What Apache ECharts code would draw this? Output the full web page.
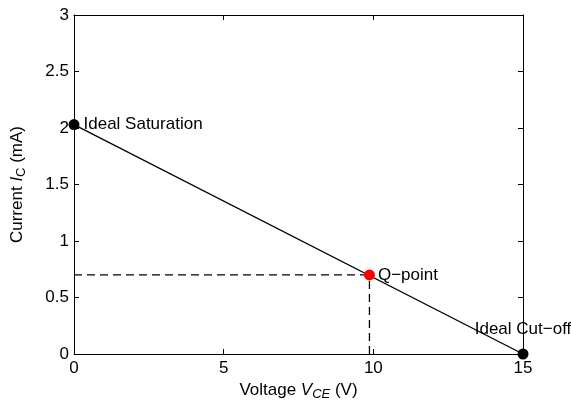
<!DOCTYPE html>
<html>
<head>
<meta charset="utf-8">
<script src="https://cdn.jsdelivr.net/npm/echarts@6/dist/echarts.min.js"></script>
<style>
  html, body { margin: 0; padding: 0; background: #fff; }
  #main { width: 571px; height: 406px; }
</style>
</head>
<body>
<div id="main"></div>
<script>
// load line end points (V_CE in V, I_C in mA)
const loadLineV = [0, 15];
const loadLineI = [2.03, 0];
const endLabels = ['Ideal Saturation', 'Ideal Cut\u2212off'];

// operating point
const qPointV = 9.87;
const qPointI = 0.70;
const qLabel = 'Q\u2212point';

// axis ticks
const xTicks = [0, 5, 10, 15];
const yTicks = [0, 0.5, 1, 1.5, 2, 2.5, 3];

const font = 'Liberation Sans, Arial, Helvetica, sans-serif';
const fs = 17;
const chart = echarts.init(document.getElementById('main'));

const baseAxis = {
    axisLine: { show: true, onZero: false, lineStyle: { color: '#000', width: 1 } },
    axisTick: { show: true, inside: true, length: 5, lineStyle: { color: '#000' } },
    splitLine: { show: false },
}

const textStyle = { color: '#000', fontSize: fs, fontFamily: font }

chart.setOption({
    animation: false,
    grid: { left: 74, right: 48, top: 15, bottom: 52 },
    xAxis: [
        {
            ...baseAxis,
            type: 'value',
            position: 'bottom',
            min: xTicks[0],
            max: xTicks[xTicks.length - 1],
            interval: 5,
            axisLabel: { ...textStyle, margin: 6 },
            name: 'Voltage {i|V}{sub|CE}{t| (V)}',
            nameLocation: 'middle',
            nameGap: 25,
            nameTextStyle: {
                ...textStyle,
                rich: {
                    t: { ...textStyle },
                    i: { ...textStyle, fontStyle: 'italic' },
                    sub: { ...textStyle, fontStyle: 'italic', fontSize: 13, verticalAlign: 'bottom', padding: [8, 0, 0, 0] },
                },
            },
        },
        {
            ...baseAxis,
            type: 'value',
            position: 'top',
            min: xTicks[0],
            max: xTicks[xTicks.length - 1],
            interval: 5,
            axisLabel: { show: false },
        },
    ],
    yAxis: [
        {
            ...baseAxis,
            type: 'value',
            position: 'left',
            min: yTicks[0],
            max: yTicks[yTicks.length - 1],
            interval: 0.5,
            axisLabel: { ...textStyle, margin: 5 },
            name: 'Current {i|I}{sub|C}{t| (mA)}',
            nameLocation: 'middle',
            nameGap: 46,
            nameTextStyle: {
                ...textStyle,
                rich: {
                    t: { ...textStyle },
                    i: { ...textStyle, fontStyle: 'italic' },
                    sub: { ...textStyle, fontSize: 13, verticalAlign: 'bottom', padding: [8, 0, 0, 0] },
                },
            },
        },
        {
            ...baseAxis,
            type: 'value',
            position: 'right',
            min: yTicks[0],
            max: yTicks[yTicks.length - 1],
            interval: 0.5,
            axisLabel: { show: false },
        },
    ],
    series: [
        {
            // load line
            type: 'line',
            data: loadLineV.map((v, i) => [v, loadLineI[i]]),
            symbol: 'none',
            lineStyle: { color: '#000', width: 1.3 },
            z: 2,
        },
        {
            // dashed projection to the current axis
            type: 'line',
            data: [[0, qPointI], [qPointV, qPointI]],
            symbol: 'none',
            lineStyle: { color: '#000', width: 1.3, type: [8, 5] },
            z: 1,
        },
        {
            // dashed projection to the voltage axis
            type: 'line',
            data: [[qPointV, 0], [qPointV, qPointI]],
            symbol: 'none',
            lineStyle: { color: '#000', width: 1.3, type: [8, 5] },
            z: 1,
        },
        {
            // ideal end points
            type: 'scatter',
            symbolSize: 11,
            itemStyle: { color: '#000', opacity: 1 },
            data: loadLineV.map((v, i) => ({
                value: [v, loadLineI[i]],
                label: {
                    show: true,
                    formatter: endLabels[i],
                    position: i === 0 ? 'right' : 'top',
                    distance: i === 0 ? 4 : 11,
                    ...textStyle,
                },
            })),
            z: 5,
        },
        {
            // Q-point
            type: 'scatter',
            symbolSize: 11,
            itemStyle: { color: '#ff0000', opacity: 1 },
            data: [{
                value: [qPointV, qPointI],
                label: {
                    show: true,
                    formatter: qLabel,
                    position: 'right',
                    distance: 3,
                    ...textStyle,
                },
            }],
            z: 5,
        },
    ],
})
</script>
</body>
</html>
